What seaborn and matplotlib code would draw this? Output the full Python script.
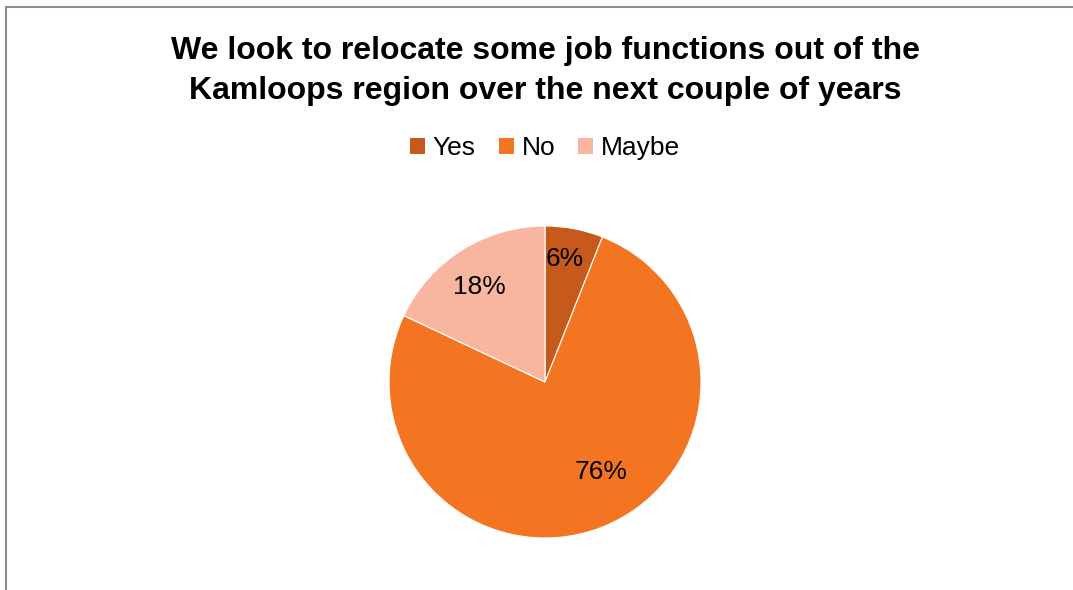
import numpy as np
import matplotlib
matplotlib.use("Agg")
import matplotlib.pyplot as plt
from matplotlib.patches import Patch, Rectangle
import seaborn as sns

# Survey responses
categories = ["Yes", "No", "Maybe"]
shares = [6, 76, 18]
colors = ["#C55A1C", "#F47521", "#F8B6A0"]
title = "We look to relocate some job functions out of the\nKamloops region over the next couple of years"

sns.set_theme(style="white")
plt.rcParams["font.family"] = ["Liberation Sans", "DejaVu Sans"]
plt.rcParams["text.color"] = "black"

W, H = 1073, 590
fig = plt.figure(figsize=(W / 100, H / 100), dpi=100)
fig.patch.set_facecolor("white")

# Chart-area frame (left and top edges visible)
fig.add_artist(Rectangle((5.5 / W, -0.1), 1.2, (H - 7) / H + 0.1,
                         transform=fig.transFigure, fill=False,
                         edgecolor="#8C8C8C", linewidth=1.5))

fig.text(0.508, (H - 71) / H, title, ha="center", va="center",
         fontsize=23, fontweight="bold", color="black", linespacing=1.4)

# Pie
R = 156
cx, cy = 545, 382
ax = fig.add_axes([(cx - R) / W, (H - cy - R) / H, 2 * R / W, 2 * R / H])
wedges, _ = ax.pie(shares, colors=colors, startangle=90, counterclock=False,
                   radius=1, wedgeprops=dict(edgecolor="white", linewidth=0.8))
ax.set_xlim(-1, 1)
ax.set_ylim(-1, 1)
ax.set_aspect("equal")
ax.axis("off")

# Percentage labels placed along each wedge
label_radius = [0.80, 0.68, 0.74]
angle_shift = [1.5, 10.0, 2.0]
for w, s, r, da in zip(wedges, shares, label_radius, angle_shift):
    mid = np.deg2rad((w.theta1 + w.theta2) / 2 + da)
    ax.text(r * np.cos(mid), r * np.sin(mid), f"{s}%", ha="center", va="center",
            fontsize=19, color="black")

handles = [Patch(facecolor=c, edgecolor="none") for c in colors]
fig.legend(handles, categories, loc="center", bbox_to_anchor=(0.508, (H - 148) / H),
           ncol=3, frameon=False, fontsize=19, handlelength=0.57, handleheight=0.57,
           handletextpad=0.3, columnspacing=0.87, labelcolor="black")

fig.savefig("out.png", dpi=100, facecolor="white")
